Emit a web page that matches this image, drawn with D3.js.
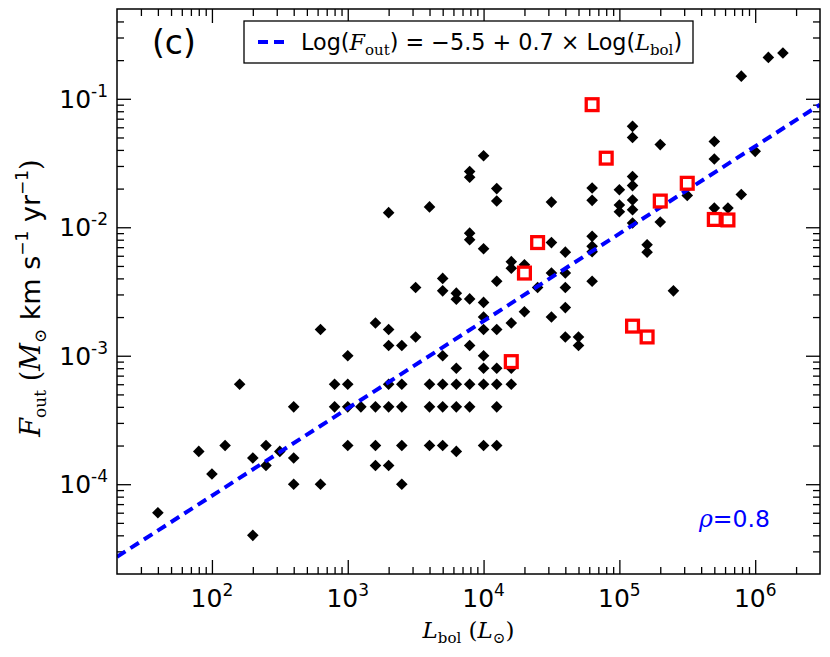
<!DOCTYPE html>
<html>
<head>
<meta charset="utf-8">
<script src="https://cdn.jsdelivr.net/npm/d3@7"></script>
<style>
  body { margin: 0; background: #fff; }
  svg { display: block; }
</style>
</head>
<body>
<div id="chart"></div>
<script>
// black diamonds: L_bol (L_sun) and F_out (M_sun km/s/yr)
const blackL = [
  40, 80, 100, 125, 160, 200, 200, 250, 250, 316,
  400, 400, 400, 630, 630, 800, 800, 1000, 1000, 1000,
  1000, 1250, 1600, 1600, 1600, 1600, 2000, 2000, 2000, 2000,
  2000, 2000, 2500, 2500, 2500, 2500, 2500, 3160, 3160, 4000,
  4000, 4000, 4000, 5000, 5000, 5000, 5000, 5000, 5000, 6300,
  6300, 6300, 6300, 6300, 6300, 7900, 7900, 7900, 7900, 7900,
  7900, 7900, 7900, 1e4, 1e4, 1e4, 1e4, 1e4, 1e4, 1e4,
  1e4, 1e4, 1.25e4, 1.25e4, 1.25e4, 1.25e4, 1.25e4, 1.25e4, 1.25e4, 1.25e4,
  1.6e4, 1.6e4, 1.6e4, 1.6e4, 1.6e4, 2e4, 2e4, 2.5e4, 3.16e4, 3.16e4,
  3.16e4, 3.16e4, 4e4, 4e4, 4e4, 4e4, 4e4, 5e4, 5e4, 6.3e4,
  6.3e4, 6.3e4, 6.3e4, 6.3e4, 6.3e4, 1e5, 1e5, 1e5, 1.25e5, 1.25e5,
  1.25e5, 1.25e5, 1.25e5, 1.25e5, 1.25e5, 1.6e5, 1.6e5, 2e5, 2e5, 2.5e5,
  3.16e5, 5e5, 5e5, 5e5, 6.3e5, 7.9e5, 7.9e5, 1e6, 1.25e6, 1.6e6
];
const blackF = [
  6e-5, 1.8e-4, 1.2e-4, 2e-4, 6e-4, 1.6e-4, 4e-5, 2e-4, 1.4e-4, 1.8e-4,
  4e-4, 1.6e-4, 1e-4, 1.6e-3, 1e-4, 6e-4, 4e-4, 1e-3, 6e-4, 4e-4,
  2e-4, 4e-4, 1.8e-3, 4e-4, 2e-4, 1.4e-4, 1.3e-2, 1.6e-3, 1.2e-3, 6e-4,
  4e-4, 1.4e-4, 1.2e-3, 6e-4, 4e-4, 2e-4, 1e-4, 3.4e-3, 1.4e-3, 1.44e-2,
  6e-4, 4e-4, 2e-4, 4e-3, 3.2e-3, 1e-3, 6e-4, 4e-4, 2e-4, 3.07e-3,
  2.75e-3, 8e-4, 6e-4, 4e-4, 1.8e-4, 2.72e-2, 2.45e-2, 9e-3, 8e-3, 2.77e-3,
  1.2e-3, 6e-4, 4e-4, 3.6e-2, 6.8e-3, 2.6e-3, 2e-3, 1.6e-3, 1e-3, 8e-4,
  6e-4, 2e-4, 2e-2, 1.6e-2, 3.8e-3, 1.6e-3, 8e-4, 6e-4, 4e-4, 2e-4,
  5.4e-3, 4.8e-3, 1.8e-3, 8e-4, 6e-4, 5.1e-3, 2.2e-3, 3.4e-3, 1.57e-2, 7.6e-3,
  4.4e-3, 2e-3, 6.4e-3, 4.4e-3, 3.4e-3, 2.37e-3, 1.4e-3, 1.4e-3, 1.2e-3, 2.02e-2,
  1.62e-2, 8.5e-3, 7.1e-3, 6.45e-3, 3.8e-3, 1.96e-2, 1.49e-2, 1.32e-2, 6.1e-2, 5e-2,
  2.48e-2, 2.11e-2, 1.63e-2, 1.37e-2, 1.08e-2, 7.3e-3, 6.4e-3, 4.4e-2, 1.1e-2, 3.2e-3,
  1.77e-2, 4.65e-2, 3.4e-2, 1.41e-2, 1.41e-2, 0.15, 1.8e-2, 3.9e-2, 0.21, 0.227
];

// red open squares
const redL = [1.6e4, 2e4, 2.5e4, 6.3e4, 8e4, 1.25e5, 1.6e5, 2e5, 3.16e5, 5e5, 6.3e5];
const redF = [9e-4, 4.4e-3, 7.6e-3, 0.09, 0.0345, 1.7e-3, 1.4e-3, 0.016, 0.022, 0.0115, 0.0114];

// dashed fit line as drawn (unrounded), legend shows rounded values
const lineA = -5.45, lineB = 0.68;
const legendA = "\u22125.5", legendB = "0.7";
const rho = "0.8";

const xDomain = [20, 3e6];
const yDomain = [2e-5, 0.5];
const xMajor = [1e2, 1e3, 1e4, 1e5, 1e6];
const xExp = ["2", "3", "4", "5", "6"];
const yMajor = [1e-1, 1e-2, 1e-3, 1e-4];
const yExp = ["-1", "-2", "-3", "-4"];

const W = 830, H = 657;
const margin = { left: 117, top: 9, right: 10, bottom: 83 };
const width = W - margin.left - margin.right;
const height = H - margin.top - margin.bottom;

const svg = d3.select("#chart").append("svg")
  .attr("width", W).attr("height", H);

const g = svg.append("g")
  .attr("transform", `translate(${margin.left},${margin.top})`);

const x = d3.scaleLog().domain(xDomain).range([0, width]);
const y = d3.scaleLog().domain(yDomain).range([height, 0]);

// minor ticks 2..9 per decade, inside domain
function minors(dom) {
  let out = [];
  for (let e = Math.floor(Math.log10(dom[0])); e <= Math.ceil(Math.log10(dom[1])); e++) {
    for (let k = 2; k <= 9; k++) {
      let v = k * Math.pow(10, e);
      if (v > dom[0] && v < dom[1]) out.push(v);
    }
  }
  return out;
}

const majorLen = 14, minorLen = 7;

function tickAxis(axisFn, scale, vals, len, tx) {
  const a = g.append("g")
    .attr("transform", tx)
    .call(axisFn(scale).tickValues(vals).tickSize(-len).tickFormat(""));
  a.select(".domain").remove();
  a.selectAll(".tick line").attr("stroke", "#000").attr("stroke-width", 1.3);
  return a;
}

// ticks on all four sides, pointing in
tickAxis(d3.axisBottom, x, xMajor, majorLen, `translate(0,${height})`);
tickAxis(d3.axisBottom, x, minors(xDomain), minorLen, `translate(0,${height})`);
tickAxis(d3.axisTop, x, xMajor, majorLen, "translate(0,0)");
tickAxis(d3.axisTop, x, minors(xDomain), minorLen, "translate(0,0)");
tickAxis(d3.axisLeft, y, yMajor, majorLen, "translate(0,0)");
tickAxis(d3.axisLeft, y, minors(yDomain), minorLen, "translate(0,0)");
tickAxis(d3.axisRight, y, yMajor, majorLen, `translate(${width},0)`);
tickAxis(d3.axisRight, y, minors(yDomain), minorLen, `translate(${width},0)`);

// tick labels
const tickFont = "DejaVu Sans";
xMajor.forEach((v, i) => {
  const t = g.append("text")
    .attr("x", x(v)).attr("y", height + 33)
    .attr("text-anchor", "middle")
    .attr("font-family", tickFont).attr("font-size", 25);
  t.append("tspan").text("10");
  t.append("tspan").attr("font-size", 17).attr("dy", -11).text(xExp[i]);
});
yMajor.forEach((v, i) => {
  const t = g.append("text")
    .attr("x", -9).attr("y", y(v) + 9)
    .attr("text-anchor", "end")
    .attr("font-family", tickFont).attr("font-size", 25);
  t.append("tspan").text("10");
  t.append("tspan").attr("font-size", 17).attr("dy", -11).text(yExp[i]);
});

// clip for data
svg.append("defs").append("clipPath").attr("id", "clip")
  .append("rect").attr("width", width).attr("height", height);
const plot = g.append("g").attr("clip-path", "url(#clip)");

// black diamonds
const r = 5.8;
plot.selectAll(".dia")
  .data(blackL.map((L, i) => [L, blackF[i]]))
  .enter().append("path")
  .attr("d", `M0,${-r}L${r},0L0,${r}L${-r},0Z`)
  .attr("transform", d => `translate(${x(d[0])},${y(d[1])})`)
  .attr("fill", "#000");

// fit line
plot.append("path")
  .datum(xDomain)
  .attr("d", d3.line()
    .x(L => x(L))
    .y(L => y(Math.pow(10, lineA + lineB * Math.log10(L)))))
  .attr("fill", "none")
  .attr("stroke", "#0000ff")
  .attr("stroke-width", 4)
  .attr("stroke-dasharray", "10,6");

// red squares
const s = 11.8;
plot.selectAll(".sq")
  .data(redL.map((L, i) => [L, redF[i]]))
  .enter().append("rect")
  .attr("x", d => x(d[0]) - s / 2)
  .attr("y", d => y(d[1]) - s / 2)
  .attr("width", s).attr("height", s)
  .attr("fill", "#fff")
  .attr("stroke", "#ff0000")
  .attr("stroke-width", 3.3);

// frame
g.append("rect")
  .attr("width", width).attr("height", height)
  .attr("fill", "none").attr("stroke", "#000").attr("stroke-width", 1.5);

// panel label
g.append("text")
  .attr("x", 35).attr("y", 45)
  .attr("font-family", "DejaVu Sans").attr("font-size", 33)
  .text("(c)");

// legend
const leg = g.append("g").attr("transform", "translate(127,12)");
leg.append("rect")
  .attr("width", 449).attr("height", 42)
  .attr("fill", "#fff").attr("stroke", "#000").attr("stroke-width", 1.3);
leg.append("line")
  .attr("x1", 14).attr("x2", 42).attr("y1", 21).attr("y2", 21)
  .attr("stroke", "#0000ff").attr("stroke-width", 4)
  .attr("stroke-dasharray", "10,6");
const lt = leg.append("text")
  .attr("x", 57).attr("y", 29)
  .attr("font-family", "DejaVu Sans").attr("font-size", 22.3);
lt.append("tspan").text("Log(");
lt.append("tspan").attr("font-family", "DejaVu Serif").attr("font-style", "italic").text("F");
lt.append("tspan").attr("font-family", "DejaVu Serif").attr("font-size", 15).attr("dy", 5).text("out");
lt.append("tspan").attr("dy", -5).text(`) = ${legendA} + ${legendB} \u00d7 Log(`);
lt.append("tspan").attr("font-family", "DejaVu Serif").attr("font-style", "italic").text("L");
lt.append("tspan").attr("font-family", "DejaVu Serif").attr("font-size", 15).attr("dy", 5).text("bol");
lt.append("tspan").attr("dy", -5).text(")");

// correlation coefficient
const rt = g.append("text")
  .attr("x", 582).attr("y", 518)
  .attr("fill", "#0000ff")
  .attr("font-family", "DejaVu Sans").attr("font-size", 23.5);
rt.append("tspan").attr("font-family", "DejaVu Serif").attr("font-style", "italic").text("\u03c1");
rt.append("tspan").text("=" + rho);

// x label
const xl = svg.append("text")
  .attr("x", margin.left + width / 2).attr("y", 638)
  .attr("text-anchor", "middle")
  .attr("font-family", "DejaVu Serif").attr("font-size", 23);
xl.append("tspan").attr("font-style", "italic").text("L");
xl.append("tspan").attr("font-size", 15).attr("dy", 5).text("bol");
xl.append("tspan").attr("dy", -5).text(" (");
xl.append("tspan").attr("font-style", "italic").text("L");
xl.append("tspan").attr("font-size", 15).attr("dy", 5).text("\u2299");
xl.append("tspan").attr("dy", -5).text(")");

// y label
const yl = svg.append("text")
  .attr("transform", `translate(40,298) rotate(-90)`)
  .attr("text-anchor", "middle")
  .attr("font-family", "DejaVu Sans").attr("font-size", 27);
yl.append("tspan").attr("font-family", "DejaVu Serif").attr("font-style", "italic").text("F");
yl.append("tspan").attr("font-family", "DejaVu Serif").attr("font-size", 17).attr("dy", 6).text("out");
yl.append("tspan").attr("dy", -6).attr("font-family", "DejaVu Serif").text(" (");
yl.append("tspan").attr("font-family", "DejaVu Serif").attr("font-style", "italic").text("M");
yl.append("tspan").attr("font-family", "DejaVu Serif").attr("font-size", 17).attr("dy", 6).text("\u2299");
yl.append("tspan").attr("dy", -6).text(" km s");
yl.append("tspan").attr("font-size", 17).attr("dy", -12).text("\u22121");
yl.append("tspan").attr("dy", 12).text(" yr");
yl.append("tspan").attr("font-size", 17).attr("dy", -12).text("\u22121");
yl.append("tspan").attr("dy", 12).attr("font-family", "DejaVu Serif").text(")");
</script>
</body>
</html>
